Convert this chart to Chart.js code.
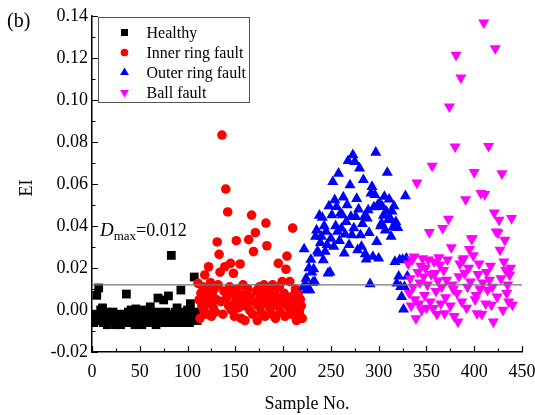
<!DOCTYPE html>
<html>
<head>
<meta charset="utf-8">
<script src="https://cdn.jsdelivr.net/npm/chart.js@4.4.0/dist/chart.umd.min.js"></script>
<style>
  html, body { margin: 0; padding: 0; background: #fff; }
  canvas { display: block; }
</style>
</head>
<body>
<canvas id="ei-chart" width="535" height="415"></canvas>
<script>
// EI 값 (샘플 번호 순서대로)
const healthyStart = 1;
const healthyEI = [
  -0.004, -0.006, -0.002, -0.005, 0.007, -0.003, 0.0105, -0.005, 0.000, -0.004,
  0.001, -0.006, -0.002, -0.005, -0.001, -0.007, -0.003, -0.005, -0.002, -0.006,
  -0.004, -0.001, -0.006, -0.003, -0.007, -0.005, -0.002, -0.006, -0.004, -0.007,
  -0.003, -0.005, -0.006, -0.002, -0.004, 0.0076, -0.006, -0.001, -0.005, -0.003,
  0.000, -0.006, -0.004, -0.002, -0.007, 0.0005, -0.005, -0.003, -0.006, -0.001,
  -0.004, -0.007, -0.002, -0.005, 0.000, -0.006, -0.003, -0.005, -0.001, -0.006,
  0.0015, -0.004, -0.006, -0.002, -0.005, -0.003, -0.007, -0.001, 0.0057, -0.004,
  -0.006, -0.002, -0.005, -0.003, 0.0048, -0.006, -0.001, -0.004, -0.006, 0.0067,
  -0.003, -0.005, 0.026, -0.002, -0.006, -0.004, -0.001, -0.005, 0.001, -0.003,
  -0.006, -0.002, 0.0095, -0.005, -0.004, -0.001, -0.006, -0.003, -0.005, 0.000,
  -0.004, -0.006, 0.003, -0.002, -0.005, -0.003, 0.0157, -0.004, -0.001, -0.005
];

const innerStart = 111;
const innerEI = [
  0.0127, 0.0048, -0.004, 0.008, 0.002, 0.011, 0.000, 0.0167, 0.006, -0.002,
  0.009, 0.0206, 0.003, 0.013, -0.003, 0.007, 0.001, 0.010, -0.001, 0.005,
  0.0324, 0.012, 0.0265, 0.018, 0.004, 0.0833, -0.002, 0.009, 0.0206, 0.0576,
  0.006, 0.0467, 0.002, 0.011, 0.0222, 0.000, 0.008, 0.0175, -0.003, 0.004,
  0.033, 0.010, 0.001, 0.007, 0.0219, -0.004, 0.005, 0.012, 0.002, -0.005,
  0.008, 0.003, 0.010, 0.0335, 0.000, 0.006, 0.0452, -0.002, 0.0278, 0.004,
  0.0368, 0.009, -0.005, 0.002, 0.011, 0.006, -0.001, 0.008, 0.003, 0.012,
  -0.003, 0.0414, 0.0306, 0.005, 0.010, 0.001, 0.007, -0.002, 0.012, 0.004,
  0.009, -0.004, 0.006, 0.002, 0.0222, 0.011, -0.001, 0.005, 0.0135, 0.003,
  0.008, -0.003, 0.0194, 0.0257, 0.006, 0.001, 0.0135, 0.004, -0.002, 0.039,
  0.007, 0.002, 0.010, -0.005, 0.004, 0.008, -0.001, 0.005, 0.002, -0.004
];

const outerStart = 221;
const outerEI = [
  0.011, 0.029, 0.012, 0.015, 0.0095, 0.0105, 0.020, 0.0095, 0.024, 0.018,
  0.013, 0.0195, 0.0135, 0.035, 0.038, 0.028, 0.027, 0.045, 0.032, 0.035,
  0.044, 0.0238, 0.040, 0.0278, 0.0373, 0.031, 0.0175, 0.0495, 0.018, 0.034,
  0.0452, 0.061, 0.0302, 0.0524, 0.040, 0.0492, 0.0373, 0.065, 0.033, 0.046,
  0.0389, 0.0452, 0.0537, 0.027, 0.036, 0.042, 0.050, 0.071, 0.031, 0.0595,
  0.0444, 0.0357, 0.0738, 0.039, 0.0706, 0.0444, 0.053, 0.0286, 0.048, 0.0675,
  0.0357, 0.0302, 0.041, 0.062, 0.0444, 0.0267, 0.0241, 0.0437, 0.0476, 0.0368,
  0.0124, 0.0556, 0.0587, 0.0254, 0.049, 0.0548, 0.075, 0.0325, 0.050, 0.0246,
  0.0508, 0.040, 0.0413, 0.0492, 0.045, 0.054, 0.038, 0.047, 0.0654, 0.043,
  0.0527, 0.0437, 0.035, 0.047, 0.0394, 0.0495, 0.023, 0.042, 0.0127, 0.0392,
  0.016, 0.0238, 0.011, 0.0063, 0.024, 0.0003, 0.011, 0.0543, 0.0246, 0.016
];

const ballStart = 331;
const ballEI = [
  0.022, 0.008, 0.015, 0.002, 0.024, 0.011, 0.0254, 0.005, -0.004, 0.0606,
  0.018, 0.003, 0.013, 0.021, 0.000, 0.0246, 0.0159, 0.0071, 0.020, 0.001,
  0.012, 0.024, 0.037, 0.004, 0.017, 0.0686, 0.0008, 0.023, 0.0175, 0.009,
  -0.002, 0.014, 0.025, 0.0214, 0.003, 0.011, 0.039, 0.019, -0.0016, 0.006,
  0.0143, 0.024, 0.0433, 0.0968, 0.002, 0.0298, 0.012, 0.010, -0.003, 0.0778,
  0.1214, 0.008, -0.0056, 0.016, 0.022, 0.1106, 0.004, 0.0238, 0.0246, 0.0175,
  0.0527, 0.001, 0.011, 0.020, 0.0289, 0.0135, 0.034, 0.0341, 0.026, 0.0656,
  0.005, 0.0071, -0.0016, 0.017, 0.022, 0.010, 0.0556, -0.002, 0.013, 0.1368,
  0.0551, 0.003, 0.018, 0.0095, 0.078, 0.0143, 0.021, 0.0024, 0.011, -0.0056,
  0.0463, 0.1246, 0.0373, 0.0063, 0.0368, 0.0429, 0.0286, 0.015, 0.065, 0.000,
  0.023, 0.0333, 0.019, 0.008, 0.012, 0.004, 0.0167, 0.020, 0.0437, 0.0024
];

// 임계값
const dMax = 0.012;

// 축 범위
const xMin = 0, xMax = 450, xStep = 50;
const yMin = -0.02, yMax = 0.14, yStep = 0.02;

const FONT = '"Liberation Serif", "Times New Roman", serif';

function toPoints(start, values) {
  return values.map((v, i) => ({ x: start + i, y: v }));
}

const seriesInfo = [
  { label: 'Healthy', start: healthyStart, values: healthyEI, color: '#000000', style: 'rect', radius: 6.2, rotation: 0 },
  { label: 'Inner ring fault', start: innerStart, values: innerEI, color: '#ff0000', style: 'circle', radius: 4.8, rotation: 0 },
  { label: 'Outer ring fault', start: outerStart, values: outerEI, color: '#0000ff', style: 'triangle', radius: 6.4, rotation: 0 },
  { label: 'Ball fault', start: ballStart, values: ballEI, color: '#ff00ff', style: 'triangle', radius: 6.4, rotation: 180 }
];

const datasets = seriesInfo.map((s, i) => ({
  type: 'scatter',
  label: s.label,
  data: toPoints(s.start, s.values),
  pointStyle: s.style,
  pointRotation: s.rotation,
  pointRadius: s.radius,
  pointBackgroundColor: s.color,
  pointBorderColor: s.color,
  pointBorderWidth: 0,
  order: seriesInfo.length - i
}));

// Dmax 기준선
datasets.push({
  type: 'line',
  label: 'Dmax',
  data: [{ x: xMin, y: dMax }, { x: xMax, y: dMax }],
  borderColor: '#777777',
  borderWidth: 1.2,
  pointRadius: 0,
  order: 0
});

// 안쪽으로 향하는 눈금 + 보조 눈금
const innerTicks = {
  id: 'innerTicks',
  afterDraw(chart) {
    const ctx = chart.ctx;
    const xs = chart.scales.x, ys = chart.scales.y;
    const area = chart.chartArea;
    ctx.save();
    ctx.strokeStyle = '#000';
    ctx.lineWidth = 1.2;
    ctx.beginPath();
    for (let k = 0; k <= (xMax - xMin) / 25; k++) {
      const v = xMin + k * 25;
      const px = Math.round(xs.getPixelForValue(v)) + 0.5;
      const len = k % 2 === 0 ? 6 : 3.5;
      ctx.moveTo(px, area.bottom);
      ctx.lineTo(px, area.bottom - len);
    }
    const nY = Math.round((yMax - yMin) / 0.01);
    for (let k = 0; k <= nY; k++) {
      const v = yMin + k * 0.01;
      const py = Math.round(ys.getPixelForValue(v)) + 0.5;
      const len = k % 2 === 0 ? 6 : 3.5;
      ctx.moveTo(area.left, py);
      ctx.lineTo(area.left + len, py);
    }
    ctx.stroke();
    ctx.restore();
  }
};

// 범례, 축 제목, 주석 텍스트
const annotations = {
  id: 'annotations',
  afterDraw(chart) {
    const ctx = chart.ctx;
    const area = chart.chartArea;
    ctx.save();

    // 범례 상자
    const bx = area.left + 6.5, by = area.top + 1.5, bw = 151, bh = 85;
    ctx.fillStyle = '#fff';
    ctx.fillRect(bx, by, bw, bh);
    ctx.strokeStyle = '#555';
    ctx.lineWidth = 1;
    ctx.strokeRect(bx, by, bw, bh);
    ctx.font = '16px ' + FONT;
    ctx.textBaseline = 'middle';
    ctx.textAlign = 'left';
    seriesInfo.forEach((s, i) => {
      const cy = by + 15 + i * 20;
      ctx.fillStyle = s.color;
      ctx.strokeStyle = s.color;
      Chart.helpers.drawPoint(ctx, {
        pointStyle: s.style,
        rotation: s.rotation,
        radius: s.radius * 0.8,
        borderWidth: 0
      }, bx + 26, cy);
      ctx.fillStyle = '#000';
      ctx.fillText(s.label, bx + 48, cy + 1);
    });

    // 축 제목
    ctx.fillStyle = '#000';
    ctx.font = '18px ' + FONT;
    ctx.textAlign = 'center';
    ctx.textBaseline = 'alphabetic';
    ctx.fillText('Sample No.', (area.left + area.right) / 2, 409);
    ctx.save();
    ctx.translate(32, (area.top + area.bottom) / 2 + 4);
    ctx.rotate(-Math.PI / 2);
    ctx.fillText('EI', 0, 0);
    ctx.restore();

    // 패널 표시
    ctx.textAlign = 'left';
    ctx.font = '20px ' + FONT;
    ctx.fillText('(b)', 7, 27);

    // Dmax 텍스트
    const tx = area.left + 8, ty = 236;
    ctx.font = 'italic 19px ' + FONT;
    ctx.fillText('D', tx, ty);
    let w = ctx.measureText('D').width;
    ctx.font = '13px ' + FONT;
    ctx.fillText('max', tx + w, ty + 4);
    w += ctx.measureText('max').width;
    ctx.font = '18px ' + FONT;
    ctx.fillText('=' + dMax.toFixed(3), tx + w, ty);

    ctx.restore();
  }
};

new Chart(document.getElementById('ei-chart'), {
  data: { datasets: datasets },
  options: {
    responsive: false,
    animation: false,
    devicePixelRatio: 1,
    layout: { padding: { top: 16, right: 13, left: 0, bottom: 0 } },
    plugins: {
      legend: { display: false },
      tooltip: { enabled: false }
    },
    scales: {
      x: {
        type: 'linear',
        min: xMin,
        max: xMax,
        afterFit(scale) {
          scale.height = 63;
          scale.paddingLeft = 0;
          scale.paddingRight = 0;
        },
        grid: { display: true, drawOnChartArea: false, drawTicks: false },
        border: { display: true, color: '#000', width: 1.5 },
        ticks: {
          stepSize: xStep,
          padding: 9,
          color: '#000',
          font: { family: FONT, size: 18 },
          maxRotation: 0
        }
      },
      y: {
        type: 'linear',
        min: yMin,
        max: yMax,
        afterFit(scale) {
          scale.width = 92;
          scale.paddingTop = 0;
          scale.paddingBottom = 0;
        },
        grid: { display: true, drawOnChartArea: false, drawTicks: false },
        border: { display: true, color: '#000', width: 1.5 },
        ticks: {
          stepSize: yStep,
          padding: 4,
          color: '#000',
          font: { family: FONT, size: 18 },
          callback: v => v.toFixed(2)
        }
      }
    }
  },
  plugins: [innerTicks, annotations]
});
</script>
</body>
</html>
